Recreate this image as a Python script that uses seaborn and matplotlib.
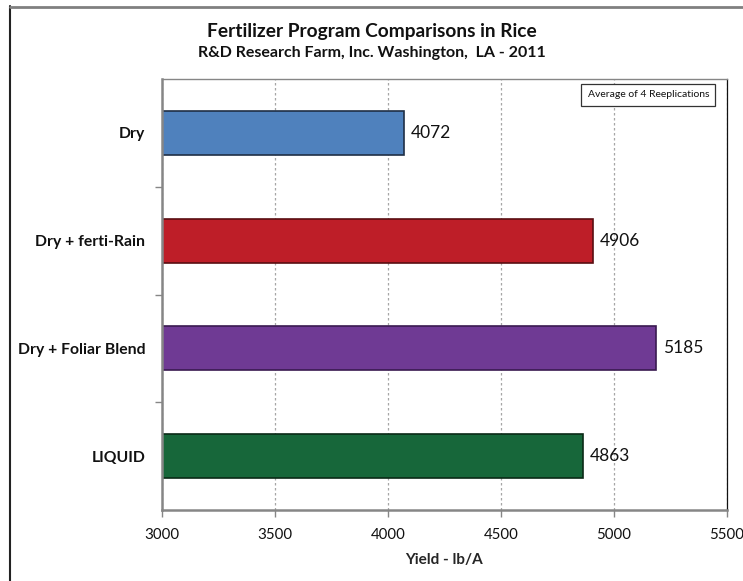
import matplotlib
matplotlib.use('Agg')
import matplotlib.pyplot as plt
import seaborn as sns
from matplotlib.lines import Line2D

categories = ['Dry', 'Dry + ferti-Rain', 'Dry + Foliar Blend', 'LIQUID']
yields = [4072, 4906, 5185, 4863]
bar_colors = ['#4F81BD', '#BE1E28', '#6F3A94', '#17673A']
edge_colors = ['#1F2F45', '#5A0E12', '#3A1A50', '#0A2A16']
xticks = [3000, 3500, 4000, 4500, 5000, 5500]

sns.set_theme(style='white')
plt.rcParams['font.family'] = ['Lato', 'DejaVu Sans']

fig = plt.figure(figsize=(7.43, 5.81), dpi=100)
ax = fig.add_axes([162/743, 1 - 510/581, 565/743, 431/581])

sns.barplot(x=yields, y=categories, hue=categories, palette=bar_colors, saturation=1,
            legend=False, width=0.41, orient='h', ax=ax, linewidth=1.2)
for patch, ec in zip(ax.patches, edge_colors):
    patch.set_edgecolor(ec)

ax.set_xlim(3000, 5500)
ax.set_ylim(3.5, -0.5)
ax.set_xticks(xticks)
ax.set_xticklabels([str(t) for t in xticks], fontsize=10.8, color='#111111')
ax.tick_params(axis='x', direction='out', length=5, width=1, color='#868686', bottom=True, pad=8)
ax.set_yticks(range(len(categories)))
ax.set_yticklabels(categories, fontsize=11.3, fontweight='bold', color='#111111')
ax.tick_params(axis='y', length=0, pad=12)
ax.set_yticks([0.5, 1.5, 2.5], minor=True)
ax.tick_params(axis='y', which='minor', direction='out', length=5, width=1, color='#868686', left=True)

ax.grid(axis='x', color='#A6A6A6', linestyle=(0, (2, 2)), linewidth=0.9)
ax.set_axisbelow(True)

for side in ['left', 'bottom']:
    ax.spines[side].set_color('#868686')
    ax.spines[side].set_linewidth(1.8)
ax.spines['top'].set_color('#868686')
ax.spines['top'].set_linewidth(1.0)
ax.spines['right'].set_color('#111111')
ax.spines['right'].set_linewidth(0.9)

for cont in ax.containers:
    ax.bar_label(cont, padding=5, fontsize=12.5, color='#111111')

ax.set_xlabel('Yield - lb/A', fontsize=11, fontweight='bold', labelpad=8)
ax.set_ylabel('')

ax.text(0.861, 0.963, 'Average of 4 Reeplications', transform=ax.transAxes,
        ha='center', va='center', fontsize=7.5, color='#111111',
        bbox=dict(boxstyle='square,pad=0.6', facecolor='white', edgecolor='#333333', linewidth=0.9))

fig.text(0.5, 1 - 31/581, 'Fertilizer Program Comparisons in Rice',
         ha='center', va='center', fontsize=13.8, fontweight='bold', color='#111111')
fig.text(0.5, 1 - 53/581, 'R&D Research Farm, Inc. Washington,  LA - 2011',
         ha='center', va='center', fontsize=11.5, fontweight='bold', color='#111111')

# outer chart frame
fig.add_artist(Line2D([10/743, 10/743], [0, 1 - 6/581], transform=fig.transFigure,
                      color='#222222', linewidth=1.5))
fig.add_artist(Line2D([10/743, 1], [1 - 6.5/581, 1 - 6.5/581], transform=fig.transFigure,
                      color='#808080', linewidth=2))

fig.savefig('out.png', dpi=100)
